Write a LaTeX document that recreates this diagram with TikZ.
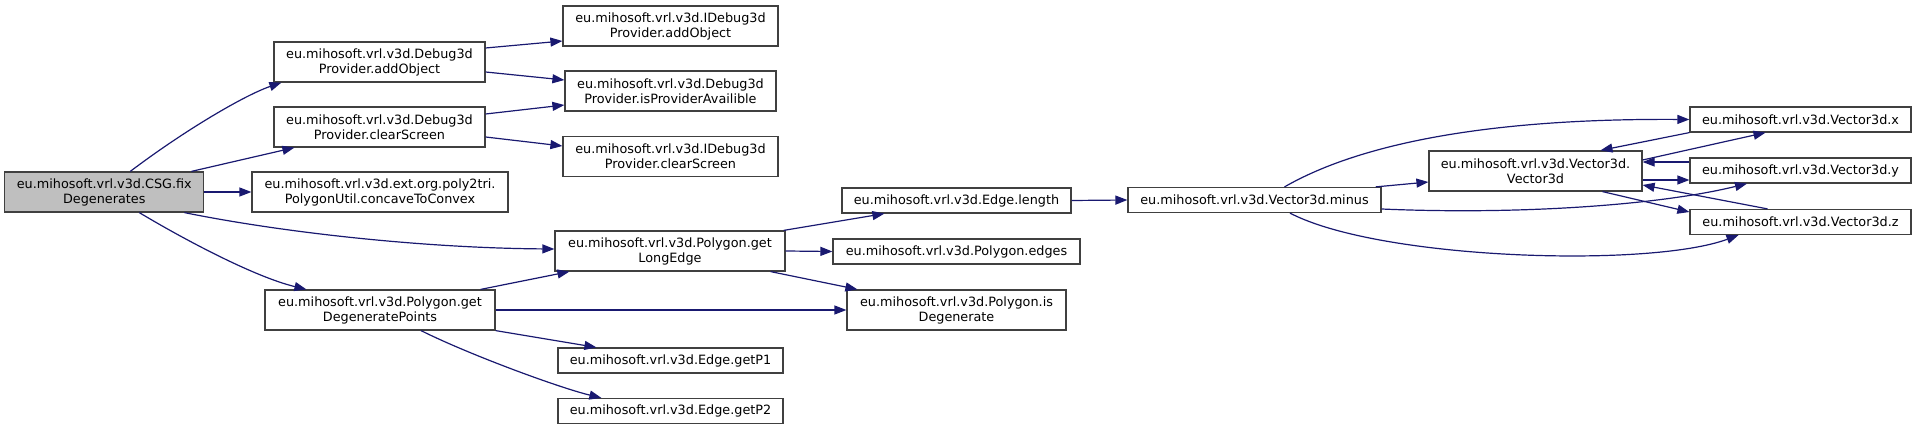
\documentclass[tikz,border=0pt]{standalone}
\usepackage{fontspec}
\setmainfont{DejaVu Sans}
\usepackage{tikz}
\usetikzlibrary{arrows.meta}
\definecolor{edgeblue}{HTML}{191970}
\definecolor{boxgray}{HTML}{404040}
\definecolor{rootgray}{HTML}{BFBFBF}

\begin{document}
\begin{tikzpicture}[
    x=1pt, y=-1pt, ->, >={Triangle[length=12pt, width=9pt]},
    every node/.style={draw=boxgray, line width=1.2pt, fill=white, align=center, inner sep=0pt,
        minimum height=25pt, font=\fontsize{12.8pt}{15pt}\selectfont},
    two/.style={minimum height=40pt},
    callarrow/.style={draw=edgeblue, line width=1.2pt}
]
\useasboundingbox (0,0) rectangle (1917,430);
% Define shapes
\node (fix_degenerates) [two, fill=rootgray, minimum width=199pt] at (104.3,192) {eu.mihosoft.vrl.v3d.CSG.fix\\Degenerates};
\node (debug_add_object) [two, minimum width=211pt] at (379.5,62) {eu.mihosoft.vrl.v3d.Debug3d\\Provider.addObject};
\node (debug_clear_screen) [two, minimum width=211pt] at (379.5,127) {eu.mihosoft.vrl.v3d.Debug3d\\Provider.clearScreen};
\node (concave_to_convex) [two, minimum width=256pt] at (380,192) {eu.mihosoft.vrl.v3d.ext.org.poly2tri.\\PolygonUtil.concaveToConvex};
\node (get_degenerate_points) [two, minimum width=230pt] at (380,310) {eu.mihosoft.vrl.v3d.Polygon.get\\DegeneratePoints};

\node (idebug_add_object) [two, minimum width=215pt] at (670.5,26) {eu.mihosoft.vrl.v3d.IDebug3d\\Provider.addObject};
\node (is_provider_availible) [two, minimum width=211pt] at (670.5,91) {eu.mihosoft.vrl.v3d.Debug3d\\Provider.isProviderAvailible};
\node (idebug_clear_screen) [two, minimum width=215pt] at (670.5,156.5) {eu.mihosoft.vrl.v3d.IDebug3d\\Provider.clearScreen};
\node (get_long_edge) [two, minimum width=230pt] at (670,251) {eu.mihosoft.vrl.v3d.Polygon.get\\LongEdge};
\node (get_p1) [minimum width=225pt] at (670.5,360.5) {eu.mihosoft.vrl.v3d.Edge.getP1};
\node (get_p2) [minimum width=225pt] at (670.5,411) {eu.mihosoft.vrl.v3d.Edge.getP2};

\node (edge_length) [minimum width=229pt] at (956.5,200.5) {eu.mihosoft.vrl.v3d.Edge.length};
\node (polygon_edges) [minimum width=247pt] at (956.5,251.5) {eu.mihosoft.vrl.v3d.Polygon.edges};
\node (is_degenerate) [two, minimum width=219pt] at (956.5,310) {eu.mihosoft.vrl.v3d.Polygon.is\\Degenerate};

\node (vector_minus) [minimum width=253pt] at (1254.5,200) {eu.mihosoft.vrl.v3d.Vector3d.minus};
\node (vector_ctor) [two, minimum width=213pt] at (1535.5,171) {eu.mihosoft.vrl.v3d.Vector3d.\\Vector3d};
\node (vector_x) [minimum width=221pt] at (1800.5,119.5) {eu.mihosoft.vrl.v3d.Vector3d.x};
\node (vector_y) [minimum width=221pt] at (1800.5,170.5) {eu.mihosoft.vrl.v3d.Vector3d.y};
\node (vector_z) [minimum width=221pt] at (1800.5,222) {eu.mihosoft.vrl.v3d.Vector3d.z};

% Draw arrows
\draw[callarrow] ([xshift=26pt]fix_degenerates.north) .. controls (185,130) and (245,95) .. ([xshift=8pt]debug_add_object.south west);
\draw[callarrow] ([xshift=-13pt]fix_degenerates.north east) -- ([xshift=21pt]debug_clear_screen.south west);
\draw[callarrow] (fix_degenerates.east) -- (concave_to_convex.west);
\draw[callarrow] ([xshift=-20pt]fix_degenerates.south east) .. controls (280,232) and (420,248) .. ([yshift=2pt]get_long_edge.west);
\draw[callarrow] ([xshift=35pt]fix_degenerates.south) .. controls (185,240) and (255,277) .. ([xshift=42pt]get_degenerate_points.north west);

\draw[callarrow] ([yshift=14pt]debug_add_object.east) -- ([yshift=-15pt]idebug_add_object.west);
\draw[callarrow] ([yshift=-10pt]debug_add_object.east) -- ([yshift=11pt]is_provider_availible.west);
\draw[callarrow] ([yshift=13pt]debug_clear_screen.east) -- ([yshift=-14pt]is_provider_availible.west);
\draw[callarrow] ([yshift=-10pt]debug_clear_screen.east) -- ([yshift=10.5pt]idebug_clear_screen.west);

\draw[callarrow] ([xshift=-15pt]get_degenerate_points.north east) -- ([xshift=15pt]get_long_edge.south west);
\draw[callarrow] (get_degenerate_points.east) -- (is_degenerate.west);
\draw[callarrow] (get_degenerate_points.south east) -- ([xshift=39pt]get_p1.north west);
\draw[callarrow] ([xshift=41pt]get_degenerate_points.south) .. controls (470,355) and (560,388) .. ([xshift=44pt]get_p2.north west);

\draw[callarrow] ([xshift=-2pt]get_long_edge.north east) -- ([xshift=43pt]edge_length.south west);
\draw[callarrow] (get_long_edge.east) -- (polygon_edges.west);
\draw[callarrow] ([xshift=-15pt]get_long_edge.south east) -- ([xshift=11pt]is_degenerate.north west);

\draw[callarrow] (edge_length.east) -- (vector_minus.west);

\draw[callarrow] ([xshift=-6pt]vector_minus.north east) -- ([yshift=-11pt]vector_ctor.west);
\draw[callarrow] ([xshift=30pt]vector_minus.north) .. controls (1340,155) and (1450,118) .. (vector_x.west);
\draw[callarrow] ([yshift=-9pt]vector_minus.east) .. controls (1520,215) and (1660,205) .. ([xshift=-53.5pt]vector_y.south);
\draw[callarrow] ([xshift=35.5pt]vector_minus.south) .. controls (1380,260) and (1650,268) .. ([xshift=-62pt]vector_z.south);

\draw[callarrow] ([yshift=11pt]vector_ctor.east) -- ([xshift=-35pt]vector_x.south);
\draw[callarrow] (vector_x.south west) -- ([xshift=65pt]vector_ctor.north);
\draw[callarrow] ([yshift=8.5pt]vector_y.west) -- ([yshift=9pt]vector_ctor.east);
\draw[callarrow] ([yshift=-9pt]vector_ctor.east) -- ([yshift=-9.5pt]vector_y.west);
\draw[callarrow] ([xshift=-33pt]vector_z.north) -- ([yshift=-14pt]vector_ctor.east);
\draw[callarrow] ([xshift=67pt]vector_ctor.south) -- ([yshift=10pt]vector_z.west);
\end{tikzpicture}
\end{document}
